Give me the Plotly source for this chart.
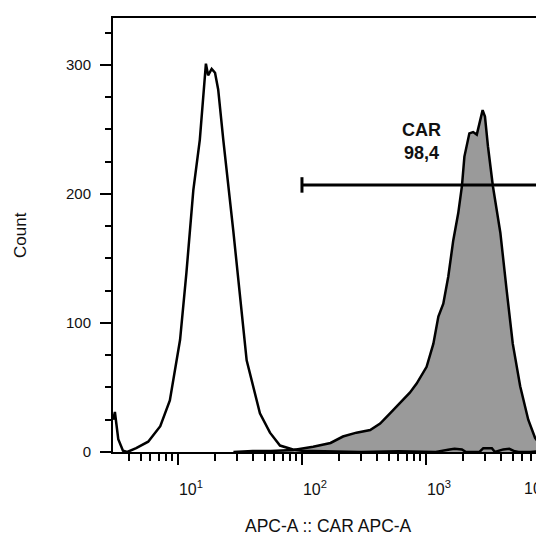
import numpy as np
import plotly.graph_objects as go

# ---- data ----
ctrl_x = [3.0, 3.1, 3.3, 3.6, 3.9, 4.6, 5.75, 7.2, 8.6, 10.4, 11.7, 13.3, 15.0, 16.2, 16.8,
          17.5, 18.7, 19.9, 21.1, 23.2, 27.9, 35.8, 45.8, 55.2, 66.5, 84.6, 100, 150, 300,
          600, 1200, 1550, 1700, 1950, 2100, 2700, 2900, 3400, 3600, 4200, 4700, 5200, 5600,
          7000, 9000]
ctrl_y = [25, 31, 10, 1, 0, 3, 8, 20, 40, 87, 139, 203, 242, 278, 301,
          292, 297, 294, 281, 242, 172, 71, 30, 15, 5, 2, 1, 0.5, 0,
          0.5, 0, 2, 2.5, 2, 0, 0, 3, 3, 0, 2, 2.5, 0.5, 0,
          0, 1]

car_x = [28, 40, 56, 79, 85, 123, 170, 214, 275, 355, 427, 513, 617, 741, 841, 1012, 1148,
         1259, 1380, 1514, 1660, 1820, 1950, 2042, 2239, 2399, 2570, 2723, 2864, 2992, 3162,
         3467, 3981, 4467, 5012, 5754, 6683, 7586, 8511, 9120]
car_y = [0, 0.8, 0.8, 1, 1.5, 4, 7, 12, 15, 17, 22, 30, 38, 46, 53, 66, 84,
         105, 115, 136, 164, 185, 206, 229, 247, 248, 246, 255, 265, 260, 237,
         206, 170, 126, 84, 51, 25, 11, 4, 3]

gate_x = [100, 30000]
gate_y = 207
gate_cap = [201, 213]
gate_name = "CAR"
gate_pct = "98,4"

y_ticks = [0, 100, 200, 300]
y_minor = [25, 50, 75, 125, 150, 175, 225, 250, 275, 325]
x_ticks = [10, 100, 1000, 10000]
x_ticktext = ["10<sup>1</sup>", "10<sup>2</sup>", "10<sup>3</sup>", "10<sup>4</sup>"]
x_minor = [4, 5, 6, 7, 8, 9] + [d * m for d in (10, 100, 1000) for m in range(2, 10)]

FONT = "Liberation Sans, Arial, sans-serif"
TXT = "#111"

fig = go.Figure()
fig.add_trace(go.Scatter(x=car_x, y=car_y, mode="lines", fill="tozeroy",
                         fillcolor="#9a9a9a", line=dict(color="black", width=2.5),
                         showlegend=False, hoverinfo="skip"))
fig.add_trace(go.Scatter(x=ctrl_x, y=ctrl_y, mode="lines",
                         line=dict(color="black", width=2.5),
                         showlegend=False, hoverinfo="skip"))
fig.add_trace(go.Scatter(x=gate_x, y=[gate_y, gate_y], mode="lines",
                         line=dict(color="black", width=3),
                         showlegend=False, hoverinfo="skip"))
fig.add_trace(go.Scatter(x=[gate_x[0], gate_x[0]], y=gate_cap, mode="lines",
                         line=dict(color="black", width=3),
                         showlegend=False, hoverinfo="skip"))

fig.add_annotation(x=np.log10(929), y=241, xref="x", yref="y",
                   text=f"<b>{gate_name}</b><br><b>{gate_pct}</b>", showarrow=False,
                   font=dict(family=FONT, size=18, color=TXT))
fig.add_annotation(x=0.5, y=0, xref="paper", yref="paper", yshift=-74,
                   text="APC-A :: CAR APC-A", showarrow=False, yanchor="middle",
                   font=dict(family=FONT, size=17.5, color=TXT))
fig.add_annotation(x=0, y=0.5, xref="paper", yref="paper", xshift=-93,
                   text="Count", showarrow=False, textangle=-90, xanchor="center",
                   font=dict(family=FONT, size=17, color=TXT))
fig.add_annotation(x=(522 - 113) / 431, y=0, xref="paper", yref="paper", yshift=-35,
                   xanchor="left", yanchor="middle", text="10<sup>4</sup>", showarrow=False,
                   font=dict(family=FONT, size=16, color=TXT))

# The page body has an 8 px default margin; size the figure so the plot lands
# at the reference position inside the 544x535 window.
fig.update_layout(
    width=536, height=527,
    margin=dict(l=105, r=0, t=10, b=83),
    paper_bgcolor="white", plot_bgcolor="white",
    xaxis=dict(type="log", range=[0.476, 3.952], showline=True, linecolor="black",
               linewidth=2, mirror=True, showgrid=False, zeroline=False,
               ticks="outside", ticklen=11, tickwidth=2, tickcolor="black",
               tickvals=x_ticks, ticktext=x_ticktext, ticklabelshift=13,
               ticklabelstandoff=11,
               tickfont=dict(family=FONT, size=16, color=TXT),
               minor=dict(tickvals=x_minor, ticks="outside", ticklen=7, tickwidth=2,
                          tickcolor="black", showgrid=False)),
    yaxis=dict(range=[0, 336.4], showline=True, linecolor="black", linewidth=2,
               mirror=False, showgrid=False, zeroline=False,
               ticks="outside", ticklen=11, tickwidth=2, tickcolor="black",
               tickvals=y_ticks, ticklabelstandoff=6,
               tickfont=dict(family=FONT, size=15, color=TXT),
               minor=dict(tickvals=y_minor, ticks="outside", ticklen=6, tickwidth=2,
                          tickcolor="black", showgrid=False)),
)
fig.write_html("out.html")
